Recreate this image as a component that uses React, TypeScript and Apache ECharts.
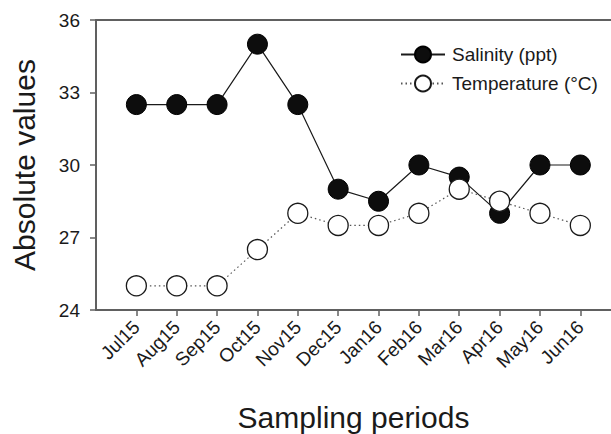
import React, { useEffect, useRef } from "react";
import * as echarts from "echarts";

const categories = ["Jul15", "Aug15", "Sep15", "Oct15", "Nov15", "Dec15", "Jan16", "Feb16", "Mar16", "Apr16", "May16", "Jun16"];
const salinity = [32.5, 32.5, 32.5, 35, 32.5, 29, 28.5, 30, 29.5, 28, 30, 30];
const temperature = [25, 25, 25, 26.5, 28, 27.5, 27.5, 28, 29, 28.5, 28, 27.5];
const yTicks = [24, 27, 30, 33, 36];

const FONT = "'Liberation Sans', Arial, sans-serif";

export default function App() {
  const ref = useRef<HTMLDivElement>(null);
  useEffect(() => {
    const chart = echarts.init(ref.current!, null, { renderer: "svg" });
    const positions = categories.map((_, i) => i + 1);
    chart.setOption({
      animation: false,
      backgroundColor: "#ffffff",
      textStyle: { fontFamily: FONT },
      grid: { left: 96, right: 0, top: 20, bottom: 124, containLabel: false, outerBoundsMode: "none" },
      legend: {
        orient: "vertical",
        left: 395,
        top: 40,
        itemWidth: 44,
        itemHeight: 20,
        itemGap: 10,
        textStyle: { fontFamily: FONT, fontSize: 19, color: "#1a1a1a", padding: [0, 0, 0, 2] },
        data: ["Salinity (ppt)", "Temperature (°C)"],
      },
      xAxis: [
        {
          type: "value",
          min: 0,
          max: 12.76,
          interval: 1,
          splitLine: { show: false },
          axisLine: { show: true, onZero: false, lineStyle: { color: "#606060", width: 2 } },
          axisTick: { show: true, customValues: positions, length: 6, lineStyle: { color: "#606060", width: 1.5 } },
          axisLabel: {
            customValues: positions,
            rotate: 45,
            fontSize: 19,
            color: "#1a1a1a",
            fontFamily: FONT,
            margin: 14,
            formatter: (v: number) => categories[Math.round(v) - 1] ?? "",
          },
          name: "Sampling periods",
          nameLocation: "middle",
          nameGap: 92,
          nameTextStyle: { fontSize: 30, color: "#1a1a1a", fontFamily: FONT },
        },
        {
          type: "value",
          position: "top",
          min: 0,
          max: 12.76,
          splitLine: { show: false },
          axisLine: { show: true, onZero: false, lineStyle: { color: "#606060", width: 2 } },
          axisTick: { show: false },
          axisLabel: { show: false },
        },
      ],
      yAxis: {
        type: "value",
        min: 24,
        max: 36,
        interval: 3,
        splitLine: { show: false },
        axisLine: { show: true, lineStyle: { color: "#606060", width: 2 } },
        axisTick: { show: true, length: 6, lineStyle: { color: "#606060", width: 1.5 } },
        axisLabel: {
          fontSize: 19,
          color: "#1a1a1a",
          fontFamily: FONT,
          margin: 16,
          customValues: yTicks,
        },
        name: "Absolute values",
        nameLocation: "middle",
        nameGap: 57,
        nameTextStyle: { fontSize: 30, color: "#1a1a1a", fontFamily: FONT },
      },
      series: [
        {
          name: "Salinity (ppt)",
          type: "line",
          data: salinity.map((v, i) => [positions[i], v]),
          symbol: "circle",
          symbolSize: 20,
          lineStyle: { color: "#1a1a1a", width: 1.2, type: "solid" },
          itemStyle: { color: "#0d0d0d", borderColor: "#000000", borderWidth: 1 },
          z: 3,
        },
        {
          name: "Temperature (°C)",
          type: "line",
          data: temperature.map((v, i) => [positions[i], v]),
          symbol: "circle",
          symbolSize: 20,
          lineStyle: { color: "#555555", width: 1.2, type: [1.5, 3] },
          itemStyle: { color: "#ffffff", borderColor: "#1a1a1a", borderWidth: 1.3 },
          z: 4,
        },
      ],
    });
    return () => chart.dispose();
  }, []);
  return <div ref={ref} style={{ width: 611, height: 434, position: "absolute", left: 0, top: 0 }} />;
}
